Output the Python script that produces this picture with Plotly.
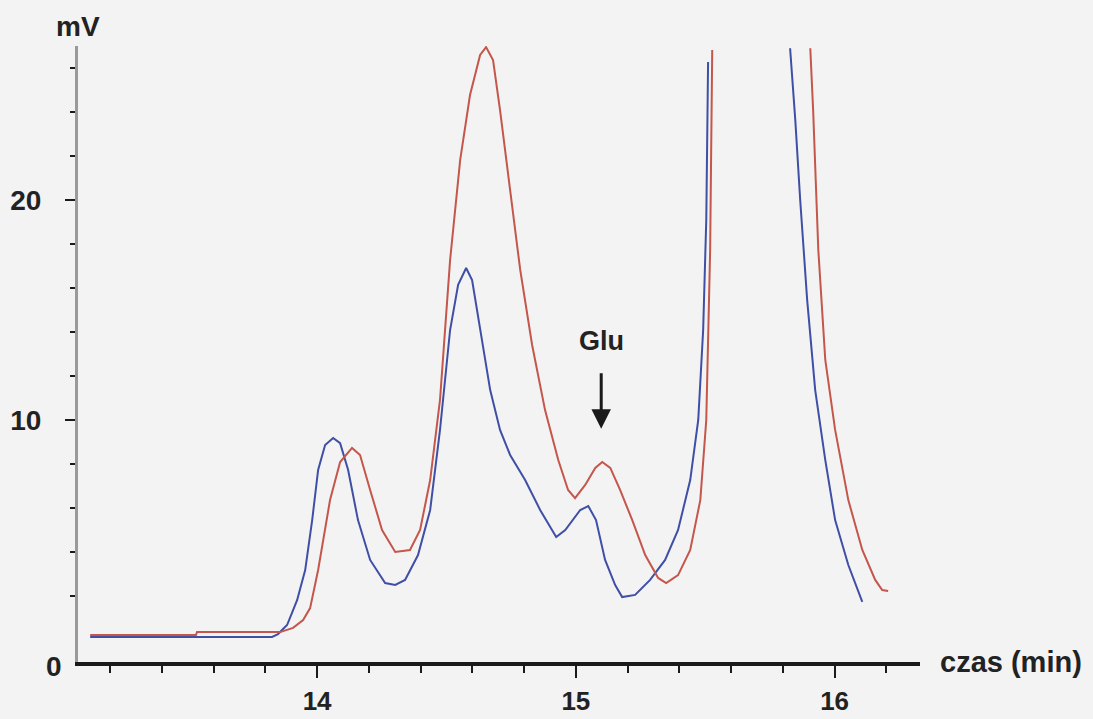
import plotly.graph_objects as go

# Chromatogram, time in minutes, signal in mV
blue_time = [13.123, 13.826, 13.849, 13.884, 13.903, 13.923, 13.954, 13.981, 14.004, 14.031,
             14.062, 14.089, 14.120, 14.158, 14.205, 14.263, 14.302, 14.340, 14.390, 14.437,
             14.475, 14.514, 14.545, 14.576, 14.599, 14.630, 14.669, 14.707, 14.746, 14.804,
             14.862, 14.924, 14.959, 15.017, 15.048, 15.078, 15.113, 15.152, 15.179, 15.229,
             15.287, 15.345, 15.395, 15.442, 15.473, 15.492, 15.504, 15.511, None,
             15.828, 15.848, 15.867, 15.894, 15.925, 15.964, 16.002, 16.053, 16.107]
blue_mv = [0.14, 0.14, 0.27, 0.68, 1.23, 1.82, 3.18, 5.45, 7.73, 8.86,
           9.18, 8.95, 7.73, 5.45, 3.64, 2.59, 2.50, 2.73, 3.86, 5.91,
           9.55, 14.09, 16.14, 16.91, 16.36, 14.09, 11.36, 9.55, 8.41, 7.27,
           5.91, 4.68, 5.00, 5.91, 6.09, 5.45, 3.64, 2.50, 1.95, 2.05,
           2.73, 3.64, 5.00, 7.27, 10.00, 14.09, 19.09, 26.27, None,
           26.90, 23.64, 20.00, 15.45, 11.36, 8.18, 5.45, 3.41, 1.73]

red_time = [13.123, 13.532, 13.536, 13.857, 13.907, 13.946, 13.973, 14.004, 14.050, 14.089,
            14.135, 14.166, 14.205, 14.251, 14.302, 14.359, 14.398, 14.437, 14.475, 14.514,
            14.553, 14.591, 14.630, 14.653, 14.680, 14.707, 14.746, 14.785, 14.831, 14.881,
            14.932, 14.970, 14.997, 15.036, 15.075, 15.102, 15.133, 15.171, 15.218, 15.268,
            15.318, 15.349, 15.395, 15.442, 15.481, 15.504, 15.519, 15.527, None,
            15.906, 15.917, 15.937, 15.964, 16.002, 16.053, 16.107, 16.157, 16.184, 16.207]
red_mv = [0.23, 0.23, 0.36, 0.36, 0.55, 0.91, 1.45, 3.18, 6.36, 8.09,
          8.73, 8.41, 6.82, 5.00, 4.00, 4.09, 5.00, 7.27, 10.91, 17.27,
          21.82, 24.77, 26.59, 26.95, 26.36, 24.09, 20.45, 16.82, 13.41, 10.45,
          8.18, 6.82, 6.45, 7.05, 7.82, 8.09, 7.82, 6.82, 5.45, 3.86,
          2.82, 2.59, 2.95, 4.09, 6.36, 10.00, 17.73, 26.82, None,
          26.90, 24.09, 17.73, 12.73, 9.55, 6.36, 4.09, 2.73, 2.27, 2.23]

x_major = [14, 15, 16]
x_labels = ["14", "15", "16"]
y_major = [10, 20]
y_labels = ["10", "20"]
y_minor = [2, 4, 6, 8, 12, 14, 16, 18, 22, 24, 26]

glu_time = 15.098
glu_mv = 9.6

FONT = "Liberation Sans, Arial, sans-serif"

fig = go.Figure()
fig.add_trace(go.Scatter(x=blue_time, y=blue_mv, mode="lines", connectgaps=False,
                         line=dict(color="#3f4fa6", width=2), showlegend=False))
fig.add_trace(go.Scatter(x=red_time, y=red_mv, mode="lines", connectgaps=False,
                         line=dict(color="#c5564b", width=2), showlegend=False))

fig.update_layout(
    width=1093, height=719,
    margin=dict(l=78, r=173, t=46, b=57),
    paper_bgcolor="#f3f3f3", plot_bgcolor="#f3f3f3",
    font=dict(family=FONT, color="#222222"),
    xaxis=dict(range=[13.076, 16.33], showgrid=False, zeroline=False, automargin=False,
               showline=True, linecolor="#1a1a1a", linewidth=4,
               tickmode="array", tickvals=x_major, ticktext=x_labels,
               ticks="outside", ticklen=12, tickwidth=2, tickcolor="#1a1a1a",
               tickfont=dict(size=26, family=FONT, color="#222222", weight="bold"),
               ticklabelstandoff=1,
               minor=dict(dtick=0.2, tick0=14, ticks="outside", ticklen=7,
                          tickwidth=2, tickcolor="#1a1a1a", showgrid=False)),
    yaxis=dict(range=[-1, 27], showgrid=False, zeroline=False, automargin=False,
               showline=True, linecolor="#9a9a9a", linewidth=3,
               tickmode="array", tickvals=y_major, ticktext=y_labels,
               ticks="outside", ticklen=10, tickwidth=2, tickcolor="#1a1a1a",
               tickfont=dict(size=28, family=FONT, color="#222222", weight="bold"),
               ticklabelstandoff=18,
               minor=dict(tickvals=y_minor, ticks="outside", ticklen=5,
                          tickwidth=2, tickcolor="#1a1a1a", showgrid=False)),
)

# "0" label at the axis baseline
fig.add_annotation(x=0, xref="paper", xanchor="right", xshift=-14,
                   y=-1, yref="y", yanchor="middle", yshift=-4,
                   text="<b>0</b>", showarrow=False,
                   font=dict(size=28, family=FONT, color="#222222"))
# axis titles
fig.add_annotation(x=0, xref="paper", xanchor="center", y=1, yref="paper",
                   yanchor="bottom", yshift=2, text="<b>mV</b>", showarrow=False,
                   font=dict(size=28, family=FONT, color="#222222"))
fig.add_annotation(x=1, xref="paper", xanchor="left", xshift=18, y=-1, yref="y",
                   yanchor="middle", text="<b>czas (min)</b>", showarrow=False,
                   font=dict(size=29, family=FONT, color="#222222"))
# Glu marker
fig.add_annotation(x=glu_time, y=glu_mv, xref="x", yref="y",
                   text="<b>Glu</b>", showarrow=True, ax=0, ay=-88,
                   arrowhead=2, arrowsize=1.3, arrowwidth=3, arrowcolor="#1a1a1a",
                   startstandoff=16, font=dict(size=27, family=FONT, color="#222222"))

fig.write_html("out.html")
